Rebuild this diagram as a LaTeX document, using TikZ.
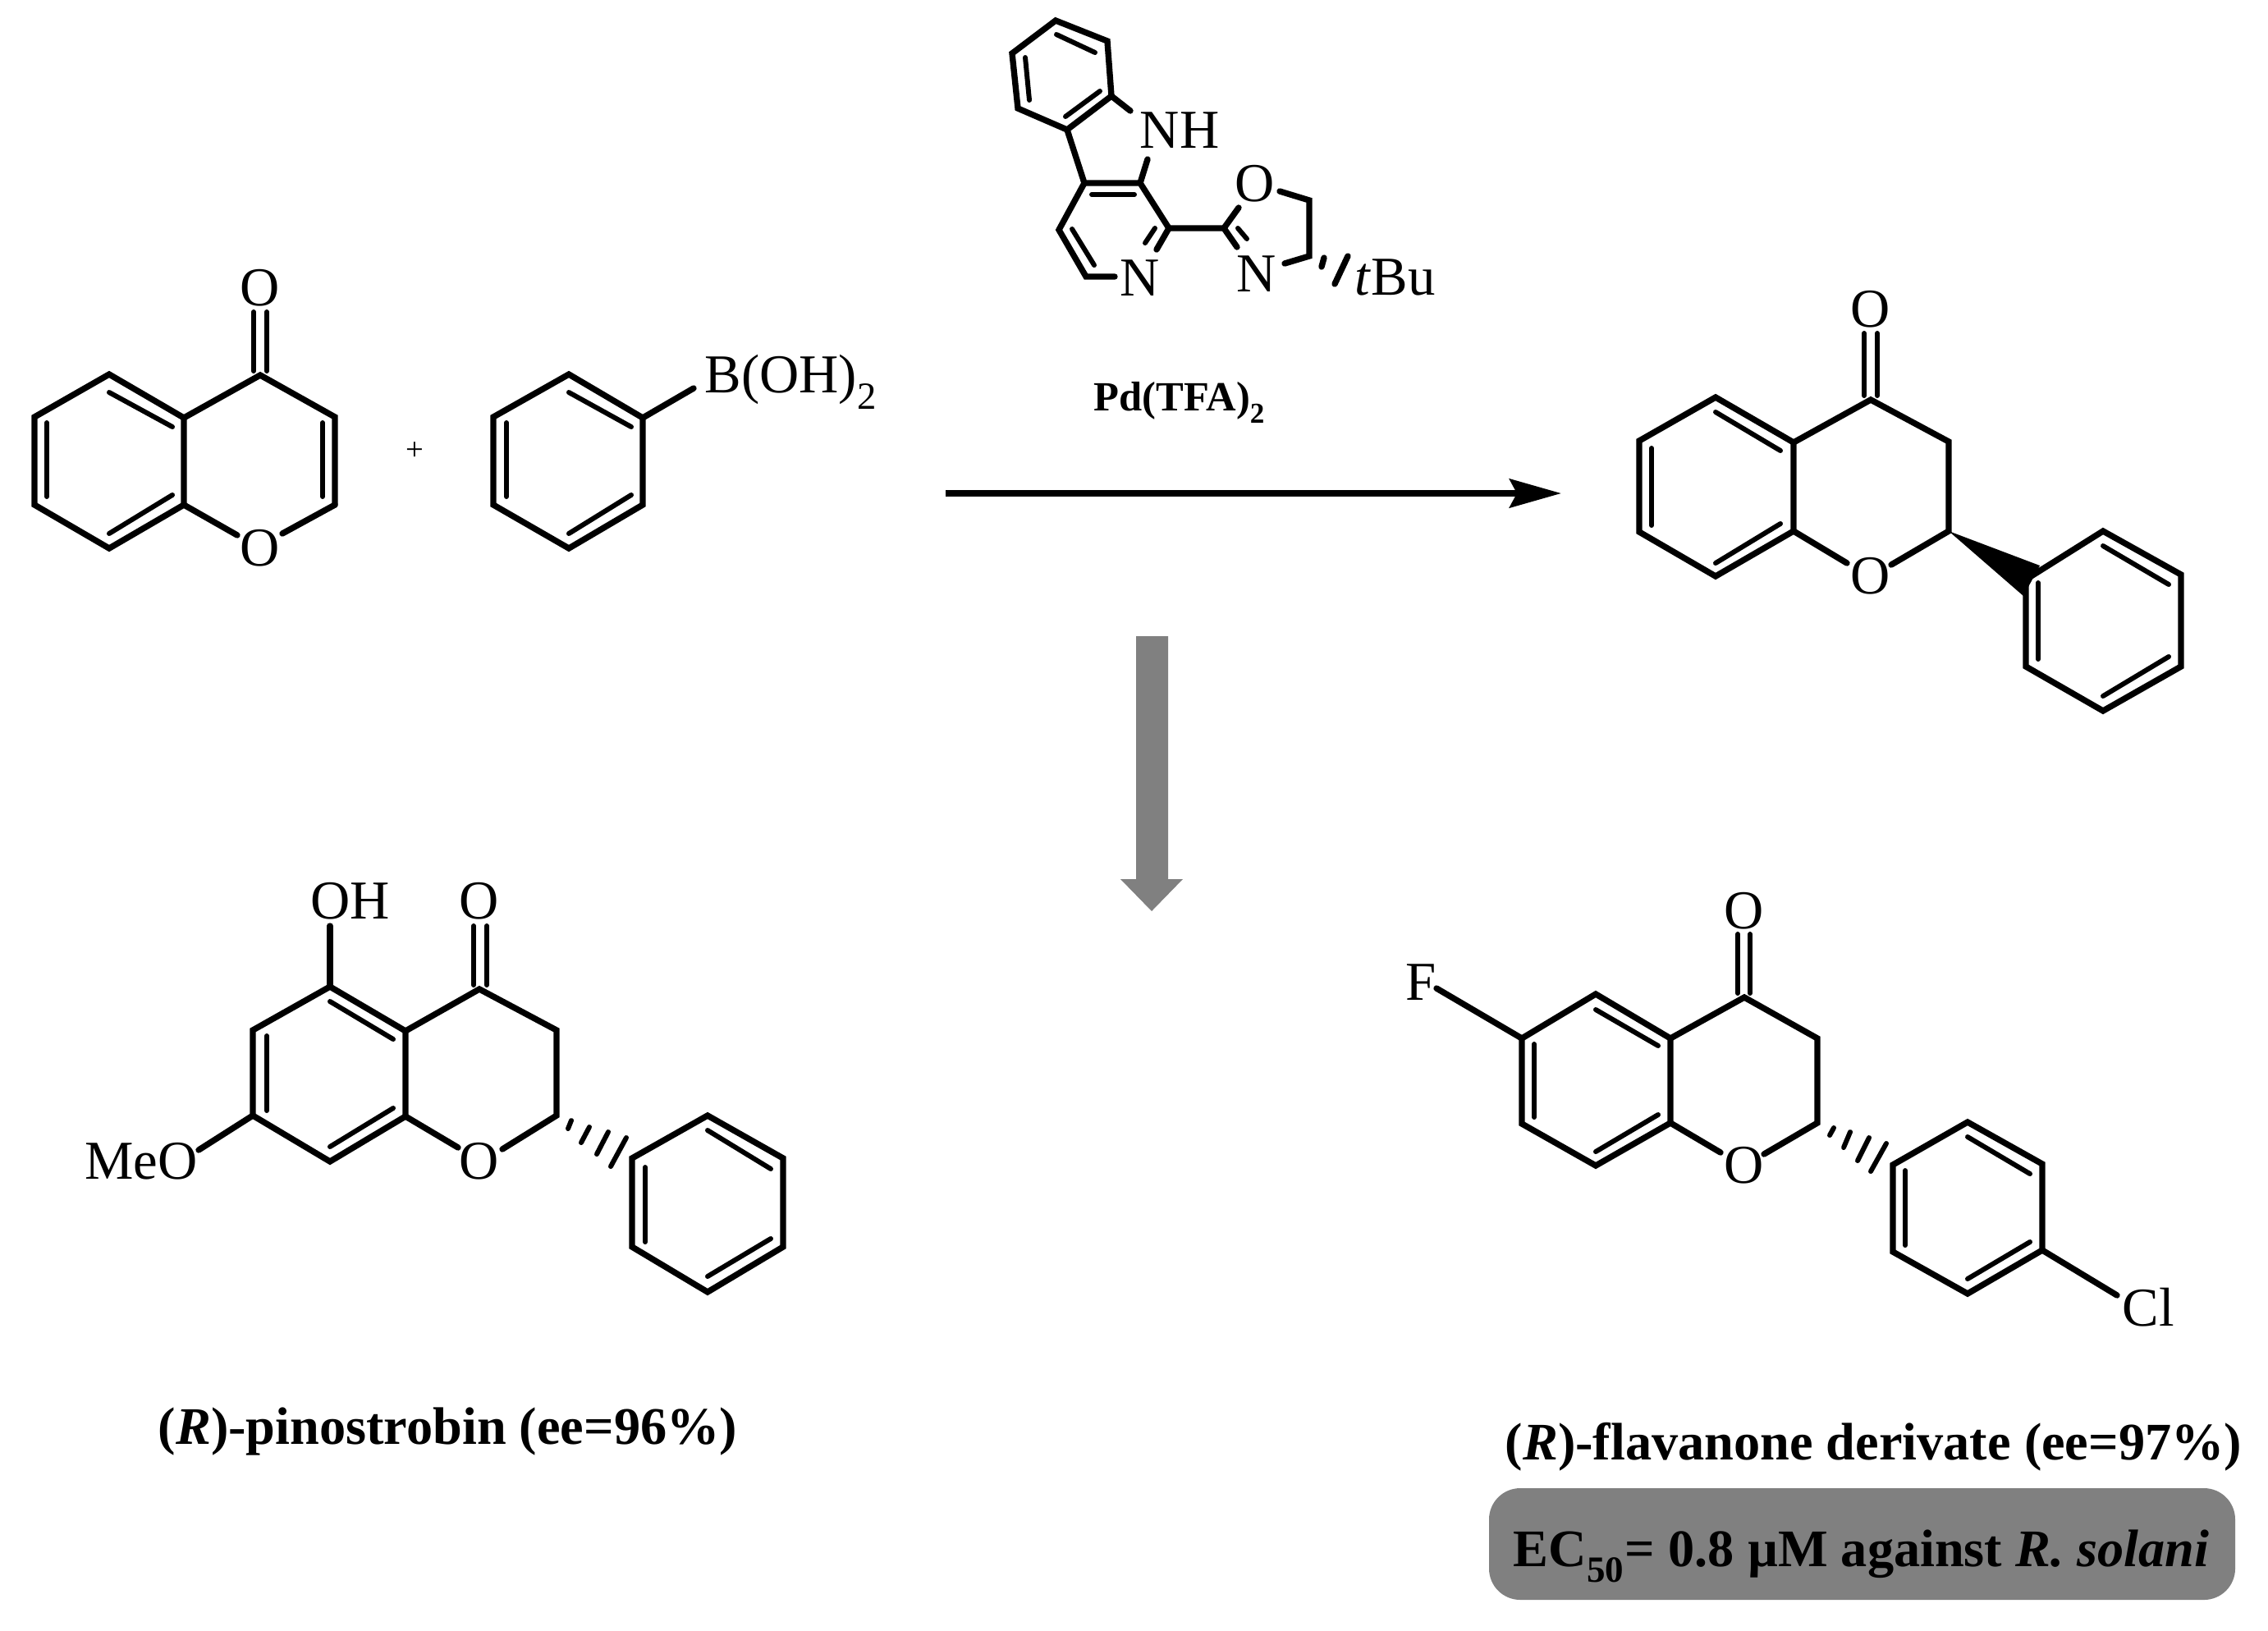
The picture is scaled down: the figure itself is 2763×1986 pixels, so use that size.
\documentclass[tikz,border=0pt]{standalone}
\usepackage{fontspec}
\setmainfont{Liberation Serif}
\usetikzlibrary{arrows.meta}
\tikzset{
	bond/.style={line width=2.1pt,line join=miter,line cap=round},
	inbond/.style={line width=1.7pt,line cap=round},
	atom/.style={inner sep=0pt,font=\fontsize{19}{20}\selectfont},
	capt/.style={inner sep=0pt,anchor=base west,font=\fontsize{18.3}{22}\selectfont\bfseries},
}
% inner line of a double bond, and hash ticks
\newcommand{\ib}[4]{\draw[inbond] (#1,#2) -- (#3,#4);}
\newcommand{\lowsub}[1]{\raisebox{-0.35ex}{\textsubscript{#1}}}
\begin{document}
\begin{tikzpicture}[x=0.1mm,y=-0.1mm]
	\useasboundingbox (0,0) rectangle (2763,1986);
	% chromone
	\foreach \n/\x/\y in {a1/224/509,a2/224/615,a3/133/456,a4/42/508,a5/42/615,a6/133/668,a7/317/457,a8/408/508,a9/408/615}
		\coordinate (\n) at (\x,\y);
	\node[atom] (aO) at (317,668) {O};
	\node[atom] (aOt) at (317,351) {O};
	\draw[bond] (a1) -- (a3) -- (a4) -- (a5) -- (a6) -- (a2) -- cycle;
	\draw[bond] (a1) -- (a7) -- (a8) -- (a9);
	\draw[bond] (a9) -- (344,650);
	\draw[bond] (a2) -- (289,652);
	\ib{133}{478}{210}{520}\ib{57}{515}{57}{605}\ib{133}{650}{210}{603}\ib{393}{515}{393}{605}
	\ib{309}{452}{309}{380}\ib{325}{452}{325}{380}
	\node[font=\fontsize{11}{12}\selectfont,inner sep=0pt] (plus) at (505,550) {+};
	% boronic acid
	\foreach \n/\x/\y in {b1/693/456,b2/783/509,b3/783/615,b4/693/668,b5/601/615,b6/601/508}
		\coordinate (\n) at (\x,\y);
	\node[atom,anchor=base west] (bB) at (858,478) {B(OH)\lowsub{2}};
	\draw[bond] (b1) -- (b2) -- (b3) -- (b4) -- (b5) -- (b6) -- cycle;
	\draw[bond] (b2) -- (845,473);
	\ib{693}{478}{769}{520}\ib{617}{515}{617}{605}\ib{693}{650}{769}{603}
	% ligand
	\foreach \n/\x/\y in {c1/1286/25,c2/1349/50,c3/1354/117,c4/1300/158,c5/1240/132,c6/1233/65,c7/1321/223,c8/1389/223,c9/1424/278,c10/1323/337,c11/1290/280,c12/1491/278,c13/1595/244,c14/1595/312}
		\coordinate (\n) at (\x,\y);
	\node[atom] (cNH) at (1437,159) {NH};
	\node[atom] (cN) at (1389,339) {N};
	\node[atom] (cO) at (1529,224) {O};
	\node[atom] (cNb) at (1531,334) {N};
	\node[atom,anchor=base west] (cBu) at (1650,359) {\textit{t}Bu};
	\draw[bond] (c1) -- (c2) -- (c3) -- (c4) -- (c5) -- (c6) -- cycle;
	\draw[bond] (c3) -- (1377,135);
	\draw[bond] (c4) -- (c7) -- (c8) -- (c9) -- (1409,304);
	\draw[bond] (c8) -- (1398,194);
	\draw[bond] (1358,337) -- (c10) -- (c11) -- (c7);
	\draw[bond] (c9) -- (c12) -- (1509,253);
	\draw[bond] (c12) -- (1507,301);
	\draw[bond] (1559,233) -- (c13) -- (c14) -- (1565,321);
	\ib{1287}{42}{1334}{64}\ib{1249}{70}{1254}{122}\ib{1298}{142}{1340}{111}
	\ib{1330}{237}{1382}{237}\ib{1306}{279}{1333}{323}\ib{1407}{278}{1395}{296}\ib{1508}{278}{1519}{291}
	\draw[bond] (1613,314) -- (1610,325);
	\draw[bond] (1642,312) -- (1626,346);
	\node[inner sep=0pt,anchor=base west,font=\fontsize{14.4}{16}\selectfont\bfseries] (pd) at (1332,500) {Pd(TFA)\lowsub{2}};
	% main arrow
	\coordinate (ar1) at (1152,601);
	\coordinate (ar2) at (1902,601);
	\draw[line width=2.1pt,-{Stealth[length=6.3mm,width=3.5mm,inset=0.9mm]}] (ar1) -- (ar2);
	% product
	\foreach \n/\x/\y in {d1/2185/539,d2/2185/647,d3/2090/484,d4/1997/537,d5/1997/648,d6/2090/702,d7/2279/487,d8/2374/538,d9/2374/647,e1/2562/647,e2/2657/700,e3/2657/812,e4/2562/866,e5/2468/812,e6/2468/706}
		\coordinate (\n) at (\x,\y);
	\node[atom] (dO) at (2279,702) {O};
	\node[atom] (dOt) at (2279,377) {O};
	\draw[bond] (d1) -- (d3) -- (d4) -- (d5) -- (d6) -- (d2) -- cycle;
	\draw[bond] (d1) -- (d7) -- (d8) -- (d9) -- (2304,688);
	\draw[bond] (d2) -- (2250,686);
	\draw[bond] (e1) -- (e2) -- (e3) -- (e4) -- (e5) -- (e6) -- cycle;
	\fill (d9) -- (2485,689) -- (2465,726) -- cycle;
	\ib{2090}{502}{2169}{549}\ib{2012}{546}{2012}{640}\ib{2090}{686}{2169}{638}
	\ib{2562}{665}{2642}{712}\ib{2483}{710}{2483}{803}\ib{2562}{848}{2642}{800}
	\ib{2271}{482}{2271}{406}\ib{2287}{482}{2287}{406}
	% gray arrow
	\fill[fill=black!50] (1384,775) -- (1423,775) -- (1423,1071) -- (1441,1071) -- (1403,1110) -- (1365,1071) -- (1384,1071) -- cycle;
	% pinostrobin
	\foreach \n/\x/\y in {f1/494/1256,f2/494/1360,f3/402/1202,f4/308/1255,f5/308/1359,f6/402/1415,f7/584/1205,f8/678/1255,f9/678/1359,g1/862/1359,g2/954/1411,g3/954/1519,g4/862/1574,g5/770/1519,g6/770/1411}
		\coordinate (\n) at (\x,\y);
	\node[atom] (fO) at (584,1415) {O};
	\node[atom] (fOt) at (584,1098) {O};
	\node[atom] (fOH) at (427,1098) {OH};
	\node[atom] (fMe) at (172,1415) {MeO};
	\draw[bond] (f1) -- (f3) -- (f4) -- (f5) -- (f6) -- (f2) -- cycle;
	\draw[bond] (f1) -- (f7) -- (f8) -- (f9) -- (612,1400);
	\draw[bond] (f2) -- (558,1398);
	\draw[bond] (f3) -- (402,1128);
	\draw[bond] (f5) -- (242,1401);
	\draw[bond] (g1) -- (g2) -- (g3) -- (g4) -- (g5) -- (g6) -- cycle;
	\ib{402}{1220}{479}{1266}\ib{325}{1262}{325}{1353}\ib{402}{1397}{479}{1350}
	\ib{862}{1377}{939}{1424}\ib{786}{1422}{786}{1513}\ib{862}{1555}{939}{1509}
	\ib{577}{1200}{577}{1128}\ib{593}{1200}{593}{1128}
	\ib{696}{1365}{692}{1375}\ib{718}{1373}{708}{1392}\ib{741}{1379}{727}{1406}\ib{763}{1386}{744}{1421}
	\node[capt] (fcap) at (192,1759) {(\textit{R})-pinostrobin (ee=96\%)};
	% fluoro flavanone
	\foreach \n/\x/\y in {h1/2035/1265,h2/2035/1368,h3/1944/1211,h4/1854/1265,h5/1854/1369,h6/1944/1420,h7/2125/1215,h8/2214/1265,h9/2214/1368,i1/2397/1367,i2/2488/1418,i3/2488/1523,i4/2397/1576,i5/2306/1525,i6/2306/1419}
		\coordinate (\n) at (\x,\y);
	\node[atom] (hO) at (2125,1420) {O};
	\node[atom] (hOt) at (2125,1110) {O};
	\node[atom] (hF) at (1731,1197) {F};
	\node[atom] (iCl) at (2617,1593) {Cl};
	\draw[bond] (h1) -- (h3) -- (h4) -- (h5) -- (h6) -- (h2) -- cycle;
	\draw[bond] (h1) -- (h7) -- (h8) -- (h9) -- (2149,1406);
	\draw[bond] (h2) -- (2096,1404);
	\draw[bond] (h4) -- (1750,1204);
	\draw[bond] (i1) -- (i2) -- (i3) -- (i4) -- (i5) -- (i6) -- cycle;
	\draw[bond] (i3) -- (2579,1578);
	\ib{1944}{1230}{2020}{1274}\ib{1869}{1272}{1869}{1361}\ib{1944}{1403}{2020}{1358}
	\ib{2397}{1385}{2473}{1430}\ib{2321}{1426}{2321}{1517}\ib{2397}{1558}{2473}{1513}
	\ib{2117}{1210}{2117}{1138}\ib{2132}{1210}{2132}{1138}
	\ib{2234}{1374}{2229}{1383}\ib{2254}{1379}{2246}{1398}\ib{2277}{1386}{2263}{1414}\ib{2298}{1393}{2279}{1427}
	\node[capt] (hcap) at (1833,1778) {(\textit{R})-flavanone derivate (ee=97\%)};
	\fill[fill=black!50,rounded corners=3.8mm] (1814,1813) rectangle (2723,1949);
	\node[capt] (hec) at (1843,1908) {EC\lowsub{50}= 0.8 µM against \textit{R. solani}};
\end{tikzpicture}
\end{document}
